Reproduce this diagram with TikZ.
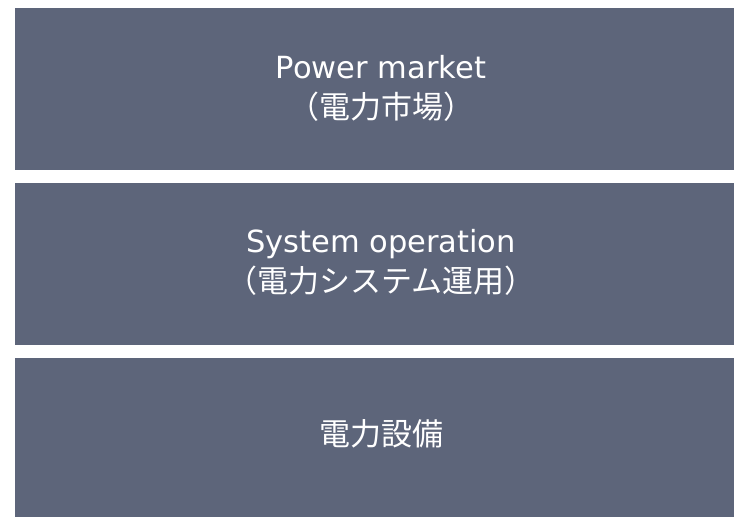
\documentclass[tikz,border=0pt]{standalone}
\usepackage{fontspec}
\setmainfont{Noto Sans CJK JP}
\newfontfamily\latinfont{DejaVu Sans}
\definecolor{boxfill}{RGB}{93,101,122}
\begin{document}
\begin{tikzpicture}[x=1pt,y=-1pt,
  panel/.style={fill=boxfill,draw=none},
  lbl/.style={text=white,align=center,anchor=base,font=\fontsize{31}{40}\selectfont,inner sep=0pt}]
\useasboundingbox (0,0) rectangle (734,517);
\fill[white] (0,0) rectangle (734,517);
\path[panel] (15,8) rectangle (748,170);
\path[panel] (15,183) rectangle (748,345);
\path[panel] (15,358) rectangle (748,530);
\node[lbl] (market) at (381,118) {{\latinfont\fontsize{30.5}{40}\selectfont Power market}\\（電力市場）};
\node[lbl] (operation) at (381,292) {{\latinfont\fontsize{30.5}{40}\selectfont System operation}\\（電力システム運用）};
\node[lbl] (equipment) at (381,445) {電力設備};
\end{tikzpicture}
\end{document}
